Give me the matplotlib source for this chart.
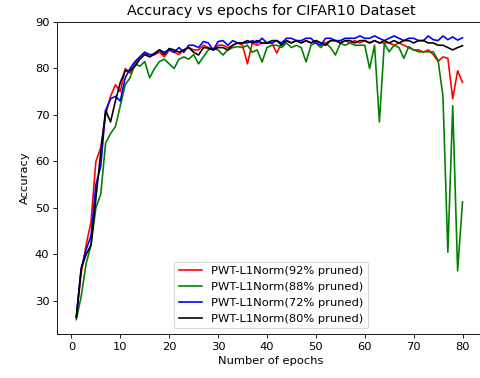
import numpy as np
import matplotlib
matplotlib.use("Agg")
import matplotlib.pyplot as plt

plt.rcParams['font.size'] = 10.5

epochs = list(range(1, 81))

acc_92 = [26.5, 36, 42, 47, 60, 63, 70, 74, 76.5, 75, 80, 79, 81, 82.5, 83.5, 82.5, 83, 83.5, 82.5, 84,
          83.5, 83, 84, 84.5, 84, 84, 85, 84.5, 84, 85, 85, 84.5, 85, 85.5, 85, 81, 85.5, 85, 85.5, 85.5,
          85.5, 83.3, 85.5, 86, 85.5, 86, 85.5, 86, 85.5, 86, 85.5, 85.5, 86, 86, 85.5, 86, 85.5, 86, 85.5, 86,
          85.5, 86, 85.5, 85.5, 85.5, 85, 85.5, 85, 84.5, 84, 84, 83.5, 84, 83, 81.5, 82.5, 82.2, 73.5, 79.5, 77]

acc_88 = [26, 31, 38, 42, 50, 53, 64, 66, 67.5, 72, 76.5, 78, 81, 80.5, 81.5, 78, 80, 81.5, 82, 81,
          80, 82, 82.5, 82, 83, 81, 82.5, 84, 84.3, 84, 82.9, 84, 84.5, 84.7, 84.5, 85, 83.5, 84, 81.4, 84.5,
          85, 85, 84.5, 85.5, 84.5, 85, 84.5, 81.4, 85, 85.5, 84.5, 85.5, 84.5, 82.9, 85.4, 85, 85.5, 85, 85, 85,
          80, 85, 68.5, 85.4, 83.6, 85, 84.5, 82.2, 84.7, 84, 83.6, 83.6, 83.6, 83.6, 81.8, 74, 40.5, 72, 36.5, 51.3]

acc_72 = [26.5, 37, 41, 44, 55, 59, 71, 73.5, 74, 73, 78, 80, 81.5, 82.5, 83.5, 83, 83, 84, 83.5, 84,
          83.5, 84.5, 83.5, 85, 85, 84.5, 85.8, 85.5, 84, 85.8, 86, 85, 86, 85.5, 85.5, 85.5, 86, 85.5, 86.5, 85.5,
          85.5, 86, 85.5, 86.5, 86.5, 86, 86, 86.5, 86.5, 85.5, 85, 86.5, 86.5, 86, 86, 86.5, 86.5, 86.5, 87, 86.5,
          86.5, 87, 86.5, 86, 86.5, 87, 86.5, 86, 86.5, 86.5, 86, 86, 87, 86.2, 86, 87, 86.2, 86.8, 86.1, 86.6]

acc_80 = [26.5, 37, 40, 42, 52, 62, 71, 68.5, 73, 77, 79.5, 79.5, 80.5, 82, 83, 82.5, 83.3, 84, 83, 84.3,
          84, 83.5, 84, 84.5, 83.5, 82.9, 84.5, 84.4, 84, 84.5, 84.5, 84, 85, 85.5, 85.5, 86, 85.5, 86, 85.5, 85.5,
          86, 86, 85, 86, 85.5, 86, 85.5, 86, 85.5, 86, 85.5, 85, 86, 86, 85.5, 86, 86, 85.5, 86, 86,
          85.5, 86, 85.5, 86, 85.5, 86, 85.5, 86, 86, 85.5, 86, 86, 85.5, 85.5, 85, 85, 84.5, 84, 84.5, 84.9]

labels = ["PWT-L1Norm(92% pruned)", "PWT-L1Norm(88% pruned)",
          "PWT-L1Norm(72% pruned)", "PWT-L1Norm(80% pruned)"]
colors = ["red", "green", "blue", "black"]

fig = plt.figure(figsize=(481 / 78.75, 378 / 78.75), dpi=78.75)
ax = fig.add_axes([57 / 481, 44 / 378, 428 / 481, 312 / 378])

for y, lab, c in zip([acc_92, acc_88, acc_72, acc_80], labels, colors):
    ax.plot(epochs, y, color=c, label=lab)

ax.set_xlim(-2.95, 84.6)
ax.set_ylim(22.9, 90)
ax.set_xticks(range(0, 81, 10))
ax.spines['right'].set_visible(False)  # cut off in the original screenshot
ax.set_title("Accuracy vs epochs for CIFAR10 Dataset", fontsize=13)
ax.set_xlabel("Number of epochs")
ax.set_ylabel("Accuracy")
ax.legend(loc="lower center")

fig.savefig("out.png", dpi=78.75)
